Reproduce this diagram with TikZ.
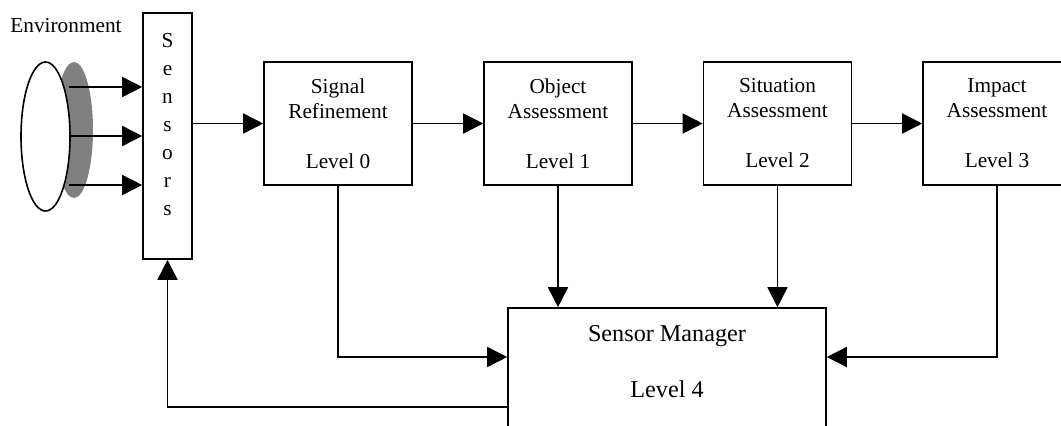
\documentclass[tikz,border=0pt]{standalone}
\usepackage{fontspec}
\setmainfont{Liberation Serif}
\usetikzlibrary{arrows.meta,shapes.geometric}
\tikzset{
  ln/.style={line width=1.6pt},
  arr/.style={ln,-{Triangle[length=20pt,width=20pt]}},
  blk/.style={draw,ln,rectangle,minimum width=148pt,minimum height=123pt,inner sep=0pt,align=center,
     font=\fontsize{21.3}{25}\selectfont},
  lbl/.style={inner sep=0pt,font=\fontsize{21.3}{25}\selectfont}
}
\begin{document}
\begin{tikzpicture}[x=1pt,y=-1pt]
\useasboundingbox (0,0) rectangle (1061,426);
\clip (0,0) rectangle (1061,426);
% environment
\node[lbl,anchor=base] (envlbl) at (66,32) {Environment};
\fill[gray!100!black,fill=black!50] (74,130) ellipse [x radius=19, y radius=68];
\node[draw,ln,fill=white,ellipse,minimum width=49pt,minimum height=149pt,inner sep=0pt] (env) at (45.5,136.5) {};
\coordinate (e1) at (69,87);
\coordinate (e2) at (69,136);
\coordinate (e3) at (69,185);
% sensors
\node[draw,ln,rectangle,minimum width=49pt,minimum height=246pt,inner sep=0pt] (sensors) at (167.5,136) {};
\node[inner sep=0pt,align=center,font=\fontsize{21.3}{28}\selectfont] (senslbl) at (167.5,125) {S\\e\\n\\s\\o\\r\\s};
\draw[arr] (e1) -- (sensors.west |- e1);
\draw[arr] (e2) -- (sensors.west |- e2);
\draw[arr] (e3) -- (sensors.west |- e3);
% level boxes
\node[blk] (sig) at (338,123.5) {Signal\\Refinement\\[25pt]Level 0};
\node[blk] (obj) at (558,123.5) {Object\\Assessment\\[25pt]Level 1};
\node[blk] (sit) at (777.5,123.5) {Situation\\Assessment\\[25pt]Level 2};
\node[blk] (imp) at (997,123.5) {Impact\\Assessment\\[25pt]Level 3};
\draw[arr] (sensors.east |- sig.west) -- (sig.west);
\draw[arr] (sig.east) -- (obj.west);
\draw[arr] (obj.east) -- (sit.west);
\draw[arr] (sit.east) -- (imp.west);
% sensor manager
\node[draw,ln,rectangle,minimum width=318pt,minimum height=170pt,inner sep=0pt] (sm) at (667,393) {};
\node[inner sep=0pt,align=center,font=\fontsize{24.2}{29}\selectfont] (smlbl) at (667,361.8) {Sensor Manager\\[27pt]Level 4};
\coordinate (ya) at (0,357);
\coordinate (yb) at (0,407);
\draw[arr] (sig.south) |- (sm.west |- ya);
\draw[arr] (obj.south) -- (obj.south |- sm.north);
\draw[arr] (sit.south) -- (sit.south |- sm.north);
\draw[arr] (imp.south) |- (sm.east |- ya);
\draw[arr] (sm.west |- yb) -| (sensors.south);
\end{tikzpicture}
\end{document}
